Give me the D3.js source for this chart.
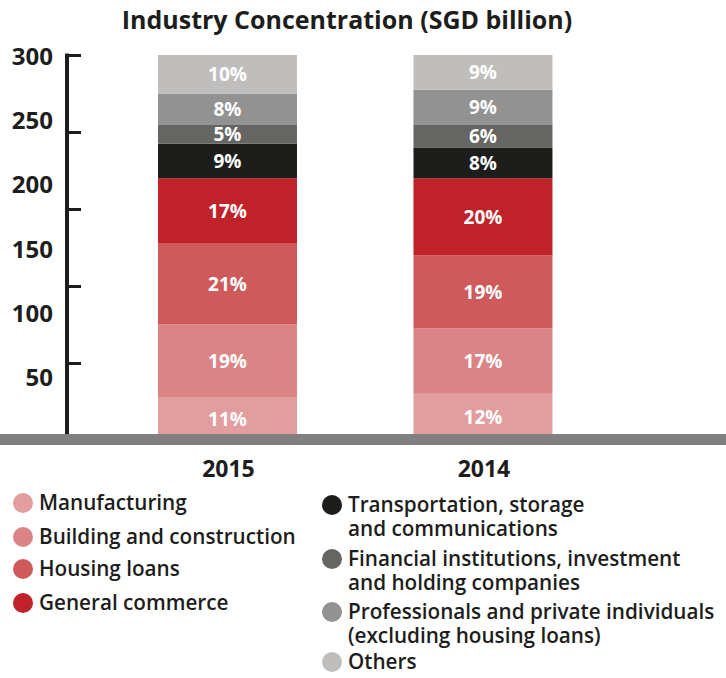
<!DOCTYPE html>
<html>
<head>
<meta charset="utf-8">
<script src="https://cdn.jsdelivr.net/npm/d3@7"></script>
<style>
html,body{margin:0;padding:0;background:#fff;}
svg{display:block;}
text{font-family:"Open Sans",sans-serif;}
</style>
</head>
<body>
<svg id="chart" width="726" height="678"></svg>
<script>
const categories = ["2015", "2014"];
const seriesNames = ["Manufacturing", "Building and construction", "Housing loans", "General commerce",
  "Transportation, storage and communications", "Financial institutions, investment and holding companies",
  "Professionals and private individuals (excluding housing loans)", "Others"];
const values2015 = [11, 19, 21, 17, 9, 5, 8, 10];
const values2014 = [12, 17, 19, 20, 8, 6, 9, 9];
const colors = ["#e29d9e", "#db8485", "#cf5a5b", "#c0222a", "#1d1d1b", "#656563", "#929292", "#bfbebd"];
const yTicks = [300, 250, 200, 150, 100, 50];
const legendLines = [
  ["Manufacturing"], ["Building and construction"], ["Housing loans"], ["General commerce"],
  ["Transportation, storage", "and communications"], ["Financial institutions, investment", "and holding companies"],
  ["Professionals and private individuals", "(excluding housing loans)"], ["Others"]
];
const title = "Industry Concentration (SGD billion)";

const svg = d3.select("#chart");
const ink = "#1d1d1b";

// title
svg.append("text").attr("x", 347).attr("y", 29).attr("text-anchor", "middle")
  .attr("font-size", 25).attr("font-weight", 700).attr("fill", ink).text(title);

// scales
const x = d3.scaleBand().domain(categories).range([81.35, 629.1]).paddingInner(0.456).paddingOuter(0.3);
const y = d3.scaleLinear().domain([0, 100]).range([440, 55]);
const yTickScale = d3.scaleLinear().domain([0, 300]).range([517, 55]);
const yLabelScale = d3.scaleLinear().domain([50, 300]).range([386, 65]);

const dataByCat = {"2015": values2015, "2014": values2014};
const rows = categories.map(c => {
  const o = {cat: c};
  seriesNames.forEach((s, i) => o[s] = dataByCat[c][i]);
  return o;
});
const stack = d3.stack().keys(seriesNames)(rows);

// bars
const layers = svg.append("g").selectAll("g").data(stack).join("g")
  .attr("fill", (d, i) => colors[i]);
layers.selectAll("rect").data(d => d).join("rect")
  .attr("x", d => x(d.data.cat))
  .attr("width", x.bandwidth())
  .attr("y", d => y(d[1]))
  .attr("height", d => y(d[0]) - y(d[1]));

// percent labels
stack.forEach((layer, i) => {
  svg.append("g").selectAll("text").data(layer).join("text")
    .attr("x", d => x(d.data.cat) + x.bandwidth() / 2)
    .attr("y", d => (y(d[0]) + y(d[1])) / 2 + 7)
    .attr("text-anchor", "middle")
    .attr("font-size", 19).attr("font-weight", 700).attr("fill", "#fff")
    .text(d => (d[1] - d[0]) + "%");
});

// y axis ticks
const axisG = svg.append("g").attr("transform", "translate(67,0)")
  .call(d3.axisRight(yTickScale).tickValues(yTicks).tickSize(14).tickSizeOuter(0).tickFormat(""));
axisG.select(".domain").remove();
axisG.selectAll(".tick line").attr("stroke", ink).attr("stroke-width", 3);
svg.append("line").attr("x1", 67).attr("x2", 67)
  .attr("y1", yTickScale(300) - 1.5).attr("y2", y(0))
  .attr("stroke", ink).attr("stroke-width", 4);

// y labels
svg.append("g").selectAll("text").data(yTicks).join("text")
  .attr("x", 53).attr("y", d => yLabelScale(d))
  .attr("text-anchor", "end").attr("font-size", 24).attr("font-weight", 700).attr("fill", ink)
  .text(d => d);

// baseline band
svg.append("rect").attr("x", 0).attr("y", 434).attr("width", 726).attr("height", 11).attr("fill", "#808080");

// x labels
svg.append("g").selectAll("text").data(categories).join("text")
  .attr("x", d => x(d) + x.bandwidth() / 2 + 1).attr("y", 477)
  .attr("text-anchor", "middle").attr("font-size", 23).attr("font-weight", 700).attr("fill", ink)
  .text(d => d);

// legend
const legendPos = [
  [23, 503], [23, 537], [23, 569], [23, 603],
  [332, 505], [332, 559], [332, 612], [332, 662]
];
const lg = svg.append("g");
legendLines.forEach((lines, i) => {
  const [cx, cy] = legendPos[i];
  lg.append("circle").attr("cx", cx).attr("cy", cy).attr("r", 10).attr("fill", colors[i]);
  const t = lg.append("text").attr("x", cx + 16).attr("y", cy + 7)
    .attr("font-size", 20.7).attr("font-weight", 600).attr("fill", ink);
  lines.forEach((ln, j) => {
    t.append("tspan").attr("x", cx + 16).attr("dy", j === 0 ? 0 : 24).text(ln);
  });
});
</script>
</body>
</html>
